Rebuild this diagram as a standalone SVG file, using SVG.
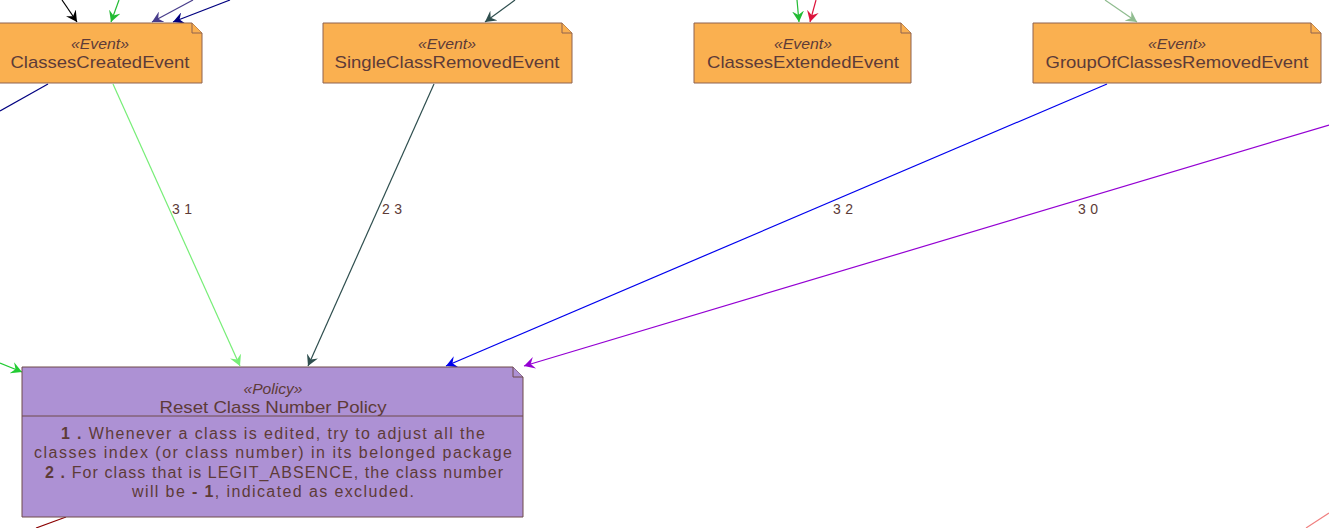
<svg xmlns="http://www.w3.org/2000/svg" width="1329" height="528" viewBox="0 0 1329 528">
<style>
.ev{fill:#FAB050;stroke:#8E6350;stroke-width:1}
.po{fill:#AD91D4;stroke:#6E4A4A;stroke-width:1}
.st{font-family:"Liberation Sans",Arial,sans-serif;font-style:italic;font-size:15px;fill:#5D3B38;text-anchor:middle}
.nm{font-family:"Liberation Sans",Arial,sans-serif;font-size:17px;fill:#5D3B38;text-anchor:middle}
.bd{font-family:"Liberation Sans",Arial,sans-serif;font-size:16px;fill:#5D3B38;text-anchor:middle}
.lb{font-family:"Liberation Sans",Arial,sans-serif;font-size:14px;fill:#5D3B38;text-anchor:middle}
.c{fill:none;stroke-width:1.2}
</style>
<defs>
<marker id="ah" viewBox="0 0 12 12" refX="11" refY="6" markerWidth="12" markerHeight="12" markerUnits="userSpaceOnUse" orient="auto">
<path d="M0,0 L11,6 L0,12 L4,6 Z" fill="context-stroke" stroke="none"/>
</marker>
</defs>
<g id="connectors">
<line class="c" x1="62" y1="0" x2="77" y2="22" stroke="#000000" marker-end="url(#ah)"/>
<line class="c" x1="119" y1="0" x2="111" y2="22" stroke="#22BB33" marker-end="url(#ah)"/>
<line class="c" x1="193" y1="0" x2="152" y2="22" stroke="#483D8B" marker-end="url(#ah)"/>
<line class="c" x1="230" y1="0" x2="173" y2="22" stroke="#000080" marker-end="url(#ah)"/>
<line class="c" x1="48" y1="84" x2="0" y2="111" stroke="#000080"/>
<line class="c" x1="113" y1="84" x2="240" y2="366" stroke="#77EE77" marker-end="url(#ah)"/>
<text class="lb" x="182" y="214" textLength="20" lengthAdjust="spacing">31</text>
<line class="c" x1="515" y1="0" x2="485" y2="22" stroke="#2F4F4F" marker-end="url(#ah)"/>
<line class="c" x1="434" y1="84" x2="308" y2="366" stroke="#2F4F4F" marker-end="url(#ah)"/>
<text class="lb" x="392" y="214" textLength="20" lengthAdjust="spacing">23</text>
<line class="c" x1="797" y1="0" x2="799" y2="22" stroke="#22BB33" marker-end="url(#ah)"/>
<line class="c" x1="816" y1="0" x2="810" y2="22" stroke="#DC143C" marker-end="url(#ah)"/>
<line class="c" x1="1105" y1="0" x2="1137" y2="22" stroke="#8FBC8F" marker-end="url(#ah)"/>
<line class="c" x1="1107" y1="84" x2="446" y2="366" stroke="#0000EE" marker-end="url(#ah)"/>
<text class="lb" x="843" y="214" textLength="20" lengthAdjust="spacing">32</text>
<line class="c" x1="1329" y1="125" x2="524" y2="366" stroke="#9400D3" marker-end="url(#ah)"/>
<text class="lb" x="1088" y="214" textLength="20" lengthAdjust="spacing">30</text>
<line class="c" x1="0" y1="363" x2="22" y2="372" stroke="#22CC33" marker-end="url(#ah)"/>
<line class="c" x1="66" y1="517" x2="36" y2="528" stroke="#8B0000"/>
<line class="c" x1="1306" y1="528" x2="1329" y2="513" stroke="#F08080"/>
</g>
<g id="ClassesCreatedEvent">
<path class="ev" d="M-2,23 L192,23 L202,33 L202,83 L-2,83 Z"/>
<path class="ev" d="M192,23 L192,33 L202,33"/>
<text class="st" x="100" y="49" textLength="58" lengthAdjust="spacingAndGlyphs">«Event»</text>
<text class="nm" x="100" y="68" textLength="179" lengthAdjust="spacingAndGlyphs">ClassesCreatedEvent</text>
</g>
<g id="SingleClassRemovedEvent">
<path class="ev" d="M323,23 L562,23 L572,33 L572,83 L323,83 Z"/>
<path class="ev" d="M562,23 L562,33 L572,33"/>
<text class="st" x="447" y="49" textLength="58" lengthAdjust="spacingAndGlyphs">«Event»</text>
<text class="nm" x="447" y="68" textLength="225" lengthAdjust="spacingAndGlyphs">SingleClassRemovedEvent</text>
</g>
<g id="ClassesExtendedEvent">
<path class="ev" d="M694,23 L901,23 L911,33 L911,83 L694,83 Z"/>
<path class="ev" d="M901,23 L901,33 L911,33"/>
<text class="st" x="803" y="49" textLength="58" lengthAdjust="spacingAndGlyphs">«Event»</text>
<text class="nm" x="803" y="68" textLength="192" lengthAdjust="spacingAndGlyphs">ClassesExtendedEvent</text>
</g>
<g id="GroupOfClassesRemovedEvent">
<path class="ev" d="M1033,23 L1311,23 L1321,33 L1321,83 L1033,83 Z"/>
<path class="ev" d="M1311,23 L1311,33 L1321,33"/>
<text class="st" x="1177" y="49" textLength="58" lengthAdjust="spacingAndGlyphs">«Event»</text>
<text class="nm" x="1177" y="68" textLength="263" lengthAdjust="spacingAndGlyphs">GroupOfClassesRemovedEvent</text>
</g>
<g id="ResetClassNumberPolicy">
<path class="po" d="M22,367 L513,367 L523,377 L523,517 L22,517 Z"/>
<path class="po" d="M513,367 L513,377 L523,377"/>
<line x1="22" y1="416" x2="523" y2="416" stroke="#6E4A4A" stroke-width="1"/>
<text class="st" x="273" y="394" textLength="59" lengthAdjust="spacingAndGlyphs">«Policy»</text>
<text class="nm" x="273" y="413" textLength="227" lengthAdjust="spacingAndGlyphs">Reset Class Number Policy</text>
<text class="bd" x="273" y="439" textLength="424" lengthAdjust="spacing"><tspan font-weight="bold">1 .</tspan> Whenever a class is edited, try to adjust all the</text>
<text class="bd" x="273" y="458" textLength="478" lengthAdjust="spacing">classes index (or class number) in its belonged package</text>
<text class="bd" x="274" y="478" textLength="458" lengthAdjust="spacing"><tspan font-weight="bold">2 .</tspan> For class that is LEGIT_ABSENCE, the class number</text>
<text class="bd" x="273" y="497" textLength="282" lengthAdjust="spacing">will be <tspan font-weight="bold">- 1</tspan>, indicated as excluded.</text>
</g>
</svg>
